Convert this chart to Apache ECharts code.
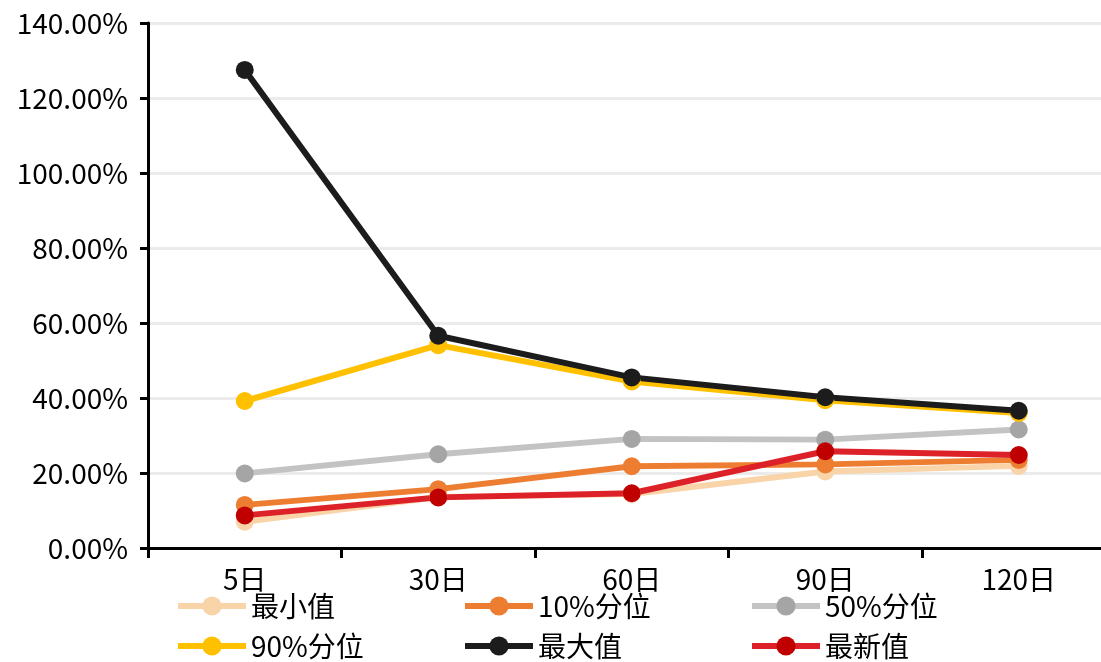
<!DOCTYPE html>
<html><head><meta charset="utf-8">
<script src="https://cdn.jsdelivr.net/npm/echarts@6/dist/echarts.min.js"></script>
<style>html,body{margin:0;padding:0;background:#fff}#c{width:1101px;height:662px}</style>
</head><body><div id="c"></div>
<script>
var categories = ['5日', '30日', '60日', '90日', '120日'];
var minVals   = [7.0, 13.6, 14.4, 20.4, 21.9];
var p10Vals   = [11.5, 15.7, 21.8, 22.3, 23.5];
var p50Vals   = [19.9, 25.0, 29.1, 28.9, 31.6];
var p90Vals   = [39.2, 54.1, 44.4, 39.4, 36.0];
var maxVals   = [127.5, 56.6, 45.5, 40.2, 36.6];
var latestVals= [8.7, 13.5, 14.6, 25.8, 24.8];
var yTicks = {min: 0, max: 140, interval: 20};

var FONT = '"Noto Sans CJK SC", "Noto Sans", sans-serif';
function mk(name, data, lineColor, dotColor) {
  return {
    name: name, type: 'line', data: data,
    symbol: 'circle', symbolSize: 18,
    lineStyle: {color: lineColor, width: 6},
    itemStyle: {color: dotColor},
    emphasis: {disabled: true}
  };
}
var chart = echarts.init(document.getElementById('c'));
chart.setOption({
  animation: false,
  backgroundColor: '#fff',
  textStyle: {fontFamily: FONT},
  grid: {left: 148, top: 23, height: 525, width: 967.5, outerBoundsMode: 'none', containLabel: false},
  legend: {
    left: 170, top: 587, width: 880,
    itemWidth: 68, itemHeight: 24, itemGap: 12,
    lineStyle: {width: 6},
    textStyle: {fontSize: 28, color: '#000', fontFamily: FONT, width: 199, lineHeight: 28, overflow: 'none'},
    data: ['最小值', '10%分位', '50%分位', '90%分位', '最大值', '最新值']
  },
  xAxis: {
    type: 'category', data: categories, boundaryGap: true,
    axisLine: {lineStyle: {color: '#000', width: 3}},
    axisTick: {show: true, length: 10, lineStyle: {color: '#000', width: 3}},
    axisLabel: {fontSize: 28, color: '#000', margin: 17, fontFamily: FONT},
    splitLine: {show: false}
  },
  yAxis: {
    type: 'value', min: yTicks.min, max: yTicks.max, interval: yTicks.interval,
    axisLine: {show: true, lineStyle: {color: '#000', width: 3}},
    axisTick: {show: true, length: 8, lineStyle: {color: '#000', width: 3}},
    axisLabel: {fontSize: 28, color: '#000', margin: 20, fontFamily: FONT,
      formatter: function (v) { return v.toFixed(2) + '%'; }},
    splitLine: {show: true, lineStyle: {color: '#EBEBEB', width: 3}}
  },
  series: [
    mk('最小值', minVals, '#F9D4A8', '#F9D4A8'),
    mk('10%分位', p10Vals, '#ED7D31', '#ED7D31'),
    mk('50%分位', p50Vals, '#C3C3C3', '#A5A5A5'),
    mk('90%分位', p90Vals, '#FFC000', '#FFC000'),
    mk('最大值', maxVals, '#1C1C1C', '#1C1C1C'),
    mk('最新值', latestVals, '#DC2228', '#C00000')
  ]
});
</script></body></html>
